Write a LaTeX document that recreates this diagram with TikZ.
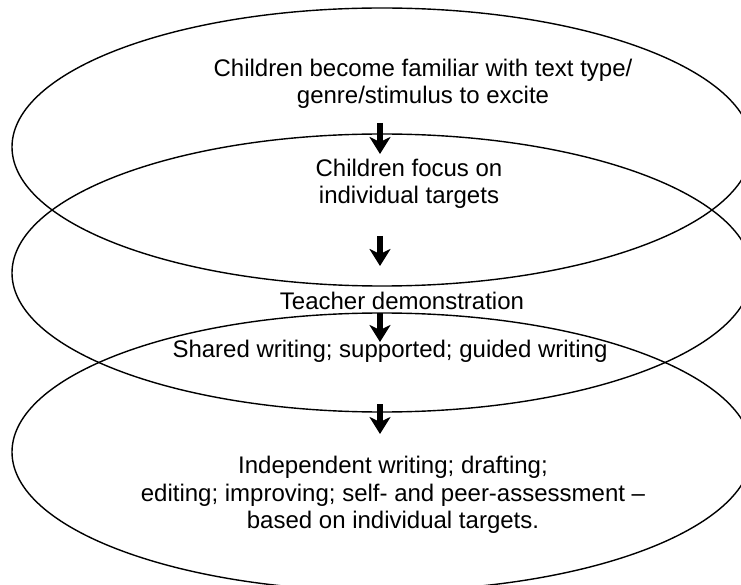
\documentclass[tikz,border=0pt]{standalone}
\usepackage{fontspec}
\setmainfont{Liberation Sans}
\usetikzlibrary{shapes.geometric,arrows.meta}
\tikzset{
  stage/.style={ellipse, draw=black, line width=1.4pt, minimum width=740pt, minimum height=278pt, inner sep=0pt},
  txt/.style={anchor=base, inner sep=0pt, font=\fontsize{24}{27}\selectfont, text=black},
  blockarrow/.style={line width=6pt, -{Stealth[length=17pt, width=21pt, inset=5pt]}}
}
\begin{document}
\begin{tikzpicture}[x=1pt,y=-1pt]
\useasboundingbox (0,0) rectangle (741,585);
\clip (0,0) rectangle (741,585);
\fill[white] (0,0) rectangle (741,585);
% ellipses
\node[stage] (e1) at (382,147) {};
\node[stage] (e2) at (382,273) {};
\node[stage] (e3) at (382,452) {};
% texts
\node[txt] (t1a) at (423,77) {Children become familiar with text type/};
\node[txt] (t1b) at (423,104) {genre/stimulus to excite};
\node[txt] (t2a) at (409,177) {Children focus on};
\node[txt] (t2b) at (409,204) {individual targets};
\node[txt] (t3) at (402,309) {Teacher demonstration};
\node[txt] (t4) at (390,357) {Shared writing; supported; guided writing};
\node[txt] (t5a) at (393,473) {Independent writing; drafting;};
\node[txt] (t5b) at (393,501) {editing; improving; self- and peer-assessment –};
\node[txt] (t5c) at (393,528) {based on individual targets.};
% arrows
\coordinate (a1s) at (380,123); \coordinate (a1e) at (380,154);
\coordinate (a2s) at (380,236); \coordinate (a2e) at (380,266);
\coordinate (a3s) at (380,313); \coordinate (a3e) at (380,342);
\coordinate (a4s) at (380,404); \coordinate (a4e) at (380,434);
\draw[blockarrow] (a1s) -- (a1e);
\draw[blockarrow] (a2s) -- (a2e);
\draw[blockarrow] (a3s) -- (a3e);
\draw[blockarrow] (a4s) -- (a4e);
\end{tikzpicture}
\end{document}
